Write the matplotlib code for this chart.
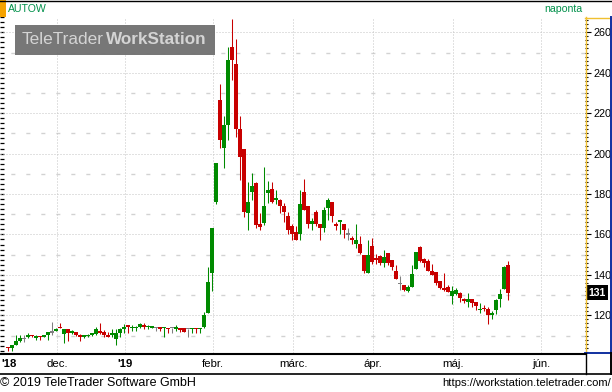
import matplotlib
matplotlib.use('Agg')
import matplotlib.pyplot as plt
import numpy as np
import pandas as pd
from matplotlib.ticker import MultipleLocator
from matplotlib.patches import Rectangle
import matplotlib.transforms as mtrans

plt.rcParams['font.family'] = ['Liberation Sans', 'DejaVu Sans']

# ---------------- data ----------------
opens = [104.4, 104.0, 105.5, 107.3, 108.7, 109.4, 110.4, 108.8, 109.7, 109.4,
         110.2, 111.7, 112.4, 114.3, 110.7, 113.4, 111.0, 111.7, 110.4, 109.4,
         109.6, 110.1, 110.7, 112.4, 111.7, 110.4, 110.1, 108.1, 111.1, 113.1,
         115.1, 113.8, 113.8, 114.4, 115.4, 114.1, 114.1, 114.1, 114.4, 113.8,
         113.8, 113.8, 113.1, 113.8, 113.8, 113.4, 113.1, 113.8, 113.4, 114.4,
         121.3, 141.1, 176.2, 226.5, 202.6, 214.1, 252.9, 244.3, 212.2, 202.1,
         170.5, 181.1, 185.3, 165.2, 165.5, 180.3, 182.5, 177.0, 177.0, 174.1,
         169.1, 164.2, 161.4, 160.2, 181.0, 174.1, 165.2, 171.1, 165.2, 163.2,
         173.1, 176.0, 165.2, 166.2, 165.2, 160.2, 158.2, 155.3, 155.3, 149.8,
         140.9, 154.3, 148.3, 149.3, 146.0, 150.8, 147.4, 141.7, 135.8, 135.0,
         132.0, 134.2, 143.1, 154.0, 147.7, 146.9, 141.9, 141.4, 137.0, 133.5,
         134.0, 129.7, 130.5, 131.2, 128.1, 126.6, 128.1, 126.6, 122.8, 123.6,
         123.1, 120.3, 122.6, 128.2, 133.2, 145.1]
highs = [104.4, 105.3, 110.2, 110.2, 110.2, 111.2, 110.5, 110.1, 109.9, 110.4,
         111.7, 116.7, 113.7, 116.3, 113.4, 113.4, 112.7, 111.9, 110.6, 110.4,
         110.6, 111.4, 114.0, 116.3, 112.7, 111.7, 113.1, 113.1, 113.8, 115.7,
         115.1, 115.1, 114.6, 116.4, 116.1, 115.1, 114.7, 114.1, 114.4, 114.4,
         113.8, 113.8, 115.1, 113.8, 113.8, 113.4, 113.8, 113.8, 113.8, 121.5,
         144.0, 163.0, 195.2, 234.4, 218.6, 252.9, 266.6, 256.5, 218.6, 202.1,
         186.1, 190.2, 186.1, 170.5, 193.5, 186.6, 186.1, 182.0, 177.5, 175.4,
         171.2, 165.2, 164.2, 182.0, 187.4, 174.1, 168.1, 172.1, 165.2, 173.7,
         178.0, 176.0, 166.2, 167.1, 165.2, 163.2, 159.2, 165.2, 159.2, 149.8,
         157.2, 158.2, 150.3, 149.8, 152.3, 150.8, 147.4, 144.9, 139.4, 135.0,
         135.0, 144.9, 151.5, 154.4, 148.2, 147.7, 145.5, 141.4, 137.0, 140.8,
         135.0, 134.5, 133.3, 131.7, 128.7, 131.2, 128.1, 126.6, 126.3, 124.9,
         124.1, 122.1, 128.2, 132.8, 144.4, 146.9]
lows = [102.5, 102.5, 105.3, 106.6, 106.6, 108.9, 109.4, 107.9, 107.9, 109.4,
        107.9, 110.1, 112.4, 113.5, 106.4, 107.4, 110.7, 110.0, 107.4, 109.0,
        109.4, 109.9, 110.1, 110.9, 109.4, 109.1, 109.5, 105.5, 109.5, 111.1,
        111.1, 112.4, 112.4, 113.8, 113.4, 113.4, 113.8, 112.4, 112.1, 109.5,
        111.4, 111.4, 112.4, 111.8, 111.8, 109.5, 111.4, 111.1, 111.4, 113.9,
        121.0, 132.2, 175.1, 202.6, 192.7, 206.7, 236.4, 208.4, 186.9, 168.5,
        162.2, 177.0, 163.0, 162.2, 164.7, 175.4, 175.4, 175.1, 170.5, 166.3,
        160.2, 157.2, 157.2, 157.2, 172.1, 163.2, 162.2, 164.2, 157.2, 161.2,
        167.1, 166.2, 162.2, 160.2, 158.2, 157.2, 155.3, 153.3, 150.3, 140.9,
        140.9, 145.4, 145.4, 144.9, 144.0, 144.9, 142.4, 138.1, 132.6, 132.0,
        131.7, 133.8, 143.1, 146.2, 144.1, 141.9, 139.9, 135.0, 133.2, 132.0,
        131.7, 125.8, 130.0, 126.7, 125.9, 124.3, 123.9, 122.6, 121.0, 122.1,
        115.9, 118.2, 120.6, 123.9, 132.8, 127.6]
closes = [104.1, 105.3, 107.5, 108.8, 108.7, 110.4, 109.9, 109.7, 109.1, 110.2,
          111.7, 111.7, 113.4, 113.5, 113.4, 111.4, 112.0, 110.1, 109.1, 110.1,
          110.4, 111.1, 113.4, 111.1, 110.1, 109.4, 111.1, 111.4, 113.1, 114.4,
          114.1, 114.4, 114.4, 115.7, 114.1, 114.7, 114.4, 114.1, 113.1, 114.4,
          113.4, 113.8, 114.4, 112.8, 111.8, 113.4, 113.8, 113.1, 113.8, 120.1,
          136.3, 163.0, 195.2, 206.7, 214.1, 246.3, 246.3, 212.2, 198.5, 171.2,
          175.9, 184.0, 164.7, 163.5, 174.1, 182.0, 176.2, 178.2, 174.1, 171.2,
          162.2, 160.2, 157.2, 175.1, 172.1, 165.2, 166.5, 165.2, 163.2, 172.1,
          177.0, 169.1, 164.2, 167.1, 162.2, 160.2, 157.2, 157.2, 150.7, 141.7,
          149.8, 146.4, 147.4, 145.7, 148.9, 145.8, 144.0, 138.1, 135.8, 132.5,
          134.2, 140.4, 151.3, 146.9, 146.0, 141.9, 139.9, 135.8, 133.7, 132.5,
          131.7, 132.0, 132.5, 128.7, 127.1, 128.1, 125.9, 124.6, 123.3, 123.0,
          120.3, 121.3, 127.6, 130.4, 144.1, 131.2]

holidays = ['2018-12-24', '2018-12-25', '2018-12-26', '2018-12-31', '2019-01-01',
            '2019-03-15', '2019-04-19', '2019-04-22', '2019-05-01']
month_starts = ['2018-12-01', '2019-01-01', '2019-02-01', '2019-03-01',
                '2019-04-01', '2019-05-01', '2019-06-01']
month_labels = ['dec.', "'19", 'febr.', 'márc.', 'ápr.', 'máj.', 'jún.']
first_label = "'18"
bold_labels = ["'18", "'19"]
price_ticks = [120, 140, 160, 180, 200, 220, 240, 260]
half_levels = [110, 130, 150, 170, 190, 210, 230, 250]

# ---------------- figure ----------------
W, H = 612, 392
fig = plt.figure(figsize=(W / 100, H / 100), dpi=100)
fig.patch.set_facecolor('white')


def px_rect(x0, y0, x1, y1):
    return [x0 / W, 1 - y1 / H, (x1 - x0) / W, (y1 - y0) / H]


ax = fig.add_axes(px_rect(0, 17, 585, 353))
ax.set_facecolor('white')
for s in ax.spines.values():
    s.set_visible(False)

o = np.array(opens); h = np.array(highs); l = np.array(lows); c = np.array(closes)
n = len(o)
idx = np.arange(n)

trade_days = pd.bdate_range('2018-11-14', '2019-06-28', freq='C', holidays=holidays)
bounds = []
for m in month_starts:
    i = int(np.searchsorted(trade_days.values, np.datetime64(m)))
    bounds.append(i - 0.67)

ax.set_xlim(-2, 144.25)
ax.set_ylim(101.35, 267.57)

GREEN, RED, GRAY = '#008a00', '#c80000', '#808080'
cols = np.where(c > o, GREEN, np.where(c < o, RED, GRAY))

# gridlines
for v in price_ticks:
    ax.axhline(v, color='#c4c4c4', lw=0.72, linestyle=(0, (1, 2)), zorder=1)
for v in half_levels:
    ax.axhline(v, color='#d2d2d2', lw=1.0, linestyle=(3, (2.9, 7.9)), zorder=1)
for b in bounds:
    ax.axvline(b, color='#c4c4c4', lw=0.72, linestyle=(0, (1, 2)), zorder=1)

# candles
ax.vlines(idx, l, h, colors=cols, lw=0.75, zorder=3)
body_h = np.maximum(np.abs(c - o), 0.6)
body_b = np.where(np.abs(c - o) < 0.6, (o + c) / 2 - 0.3, np.minimum(o, c))
ax.bar(idx, body_h, width=0.78, bottom=body_b, color=cols, linewidth=0, zorder=4)

# y axis on the right
ax.yaxis.tick_right()
ax.yaxis.set_major_locator(MultipleLocator(20))
ax.yaxis.set_minor_locator(MultipleLocator(2))
ax.tick_params(axis='y', which='major', direction='out', length=4, width=0.8,
               labelsize=7.8, pad=2, colors='black')
ax.tick_params(axis='y', which='minor', direction='out', length=2, width=0.8)

# left edge ticks
sec = ax.secondary_yaxis('left')
for s in sec.spines.values():
    s.set_visible(False)
sec.yaxis.set_major_locator(MultipleLocator(2.5))
sec.tick_params(axis='y', direction='in', length=3, width=0.9, labelleft=False)

# x labels
xt = [0.25] + bounds
xl = [first_label] + month_labels
ax.set_xticks(xt)
ax.set_xticklabels(xl)
ax.tick_params(axis='x', length=0, pad=4, labelsize=8.2)
for t in ax.get_xticklabels():
    if t.get_text() in bold_labels:
        t.set_fontweight('bold')

# last price marker
tr = mtrans.blended_transform_factory(ax.transAxes, ax.transData)
ax.text(1.0 + 3.0 / 585, c[-1], f'{c[-1]:.0f}', transform=tr, ha='left', va='center',
        color='white', fontsize=7.6, fontweight='bold', clip_on=False, zorder=10,
        bbox=dict(facecolor='black', edgecolor='none', pad=1.7))

# ---------------- decorations (pixel space) ----------------
deco = fig.add_axes([0, 0, 1, 1], zorder=5)
deco.set_xlim(0, W)
deco.set_ylim(H, 0)
deco.axis('off')
deco.patch.set_alpha(0)

deco.plot([0, W], [0.5, 0.5], color='black', lw=1)
deco.add_patch(Rectangle((0, 0), 6, 16.5, color='#f5a300', lw=0))
deco.text(8, 8.5, 'AUTOW', color='#00904a', fontsize=7.6, va='center', ha='left')
deco.text(582, 9, 'naponta', color='#00904a', fontsize=7.6, va='center', ha='right')

# watermark
deco.add_patch(Rectangle((15, 25), 200, 29.5, color='#707070', lw=0, alpha=0.95))
deco.text(21.5, 39.5, 'TeleTrader', color='#d4d4d4', fontsize=12.4, va='center', ha='left')
deco.text(106.0, 39.5, 'WorkStation', color='#d4d4d4', fontsize=12.3, va='center',
          ha='left', fontweight='bold')

# right price panel border
deco.plot([585.5, 585.5], [17, 353], color='#f0c030', lw=1)
deco.plot([585, 611], [17.5, 17.5], color='#f0c030', lw=1)
deco.plot([610.5, 610.5], [17, 353], color='#1030a0', lw=1.4)
deco.plot([585, 611], [352.5, 352.5], color='#1030a0', lw=1.4)

# bottom band
deco.plot([0, 585], [354, 354], color='black', lw=1.5)
deco.plot([0, W], [373.8, 373.8], color='black', lw=1.2)
deco.plot([585.5, 585.5], [353, 374], color='black', lw=1)
deco.plot([611, 611], [353, 374], color='black', lw=1.4)

# footer
deco.text(0, 382.5, '© 2019 TeleTrader Software GmbH', fontsize=9, va='center', ha='left')
deco.text(611, 383, 'https://workstation.teletrader.com/', fontsize=8.1, va='center', ha='right')

fig.savefig('out.png', dpi=100, facecolor='white')
